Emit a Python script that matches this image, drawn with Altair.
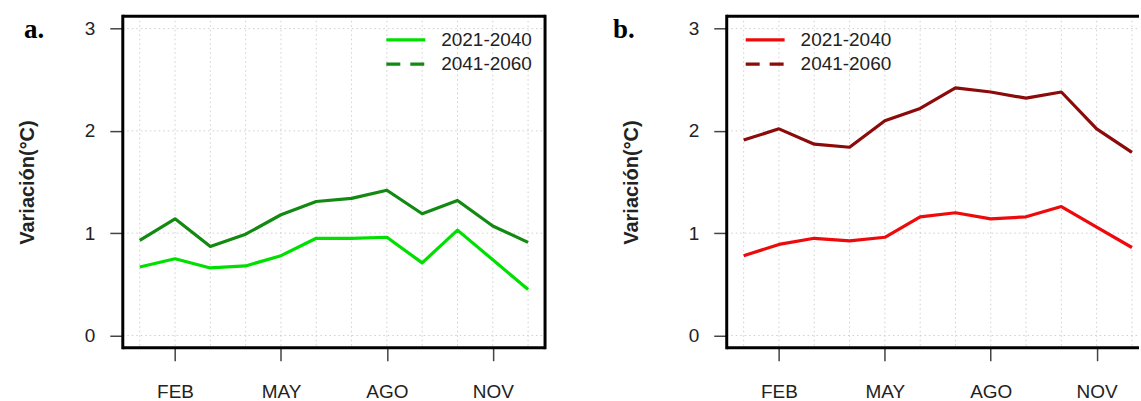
import altair as alt
import pandas as pd

# Month axis
MONTHS = ["ENE", "FEB", "MAR", "ABR", "MAY", "JUN", "JUL", "AGO", "SEP", "OCT", "NOV", "DIC"]
MONTH_NUM = list(range(1, 13))
TICK_MONTHS = [2, 5, 8, 11]
Y_TICKS = [0, 1, 2, 3]
PERIODS = ["2021-2040", "2041-2060"]

# Monthly temperature change (°C), panel a
A_2021_2040 = [0.67, 0.75, 0.66, 0.68, 0.78, 0.95, 0.95, 0.96, 0.71, 1.03, 0.74, 0.45]
A_2041_2060 = [0.93, 1.14, 0.87, 0.99, 1.18, 1.31, 1.34, 1.42, 1.19, 1.32, 1.07, 0.91]

# Monthly temperature change (°C), panel b
B_2021_2040 = [0.78, 0.89, 0.95, 0.925, 0.96, 1.16, 1.20, 1.14, 1.16, 1.26, 1.06, 0.86]
B_2041_2060 = [1.91, 2.02, 1.87, 1.84, 2.10, 2.22, 2.42, 2.38, 2.32, 2.38, 2.02, 1.79]

FONT = "Liberation Sans"
H = 332

label_expr = "[" + ",".join(f"'{m}'" for m in MONTHS) + "][datum.value - 1]"


def one(cols):
    return pd.DataFrame(cols)


def panel(v1, v2, c1, c2, width, xmax, tag, tag_x, leg_x, right_border):
    xs = alt.Scale(domain=[0.52, xmax], nice=False, zero=False)
    ys = alt.Scale(domain=[-0.12, 3.12], nice=False, zero=False)
    x_axis = alt.Axis(values=TICK_MONTHS, labelExpr=label_expr, title=None, grid=False,
                      domain=False, tickSize=13, tickWidth=1.5, labelPadding=22)
    y_axis = alt.Axis(values=Y_TICKS, title="Variación(°C)", grid=False, domain=False,
                      tickSize=13, tickWidth=1.5, labelPadding=15, titlePadding=47)
    X = alt.X("mes:Q", scale=xs, axis=x_axis)
    Y = alt.Y("valor:Q", scale=ys, axis=y_axis)

    grid_style = dict(color="#cfcfcf", strokeWidth=1, strokeDash=[1.5, 3])
    vgrid = alt.Chart(one({"mes": MONTH_NUM})).mark_rule(**grid_style).encode(
        x=X, y=alt.value(0), y2=alt.value(H))
    hgrid = alt.Chart(one({"valor": Y_TICKS})).mark_rule(**grid_style).encode(
        y=Y, x=alt.value(0), x2=alt.value(width))

    line1 = alt.Chart(one({"mes": MONTH_NUM, "valor": v1})).mark_line(
        strokeWidth=3.2, strokeJoin="round", color=c1).encode(x=X, y=Y)
    line2 = alt.Chart(one({"mes": MONTH_NUM, "valor": v2})).mark_line(
        strokeWidth=3.2, strokeJoin="round", color=c2).encode(x=X, y=Y)

    frame_style = dict(color="black", strokeWidth=3)
    frame = [
        alt.Chart(one({"k": [0]})).mark_rule(**frame_style).encode(
            x=alt.value(0), x2=alt.value(width), y=alt.value(0)),
        alt.Chart(one({"k": [0]})).mark_rule(**frame_style).encode(
            x=alt.value(0), x2=alt.value(width), y=alt.value(H)),
        alt.Chart(one({"k": [0]})).mark_rule(strokeCap="square", **frame_style).encode(
            x=alt.value(0), y=alt.value(0), y2=alt.value(H)),
    ]
    if right_border:
        frame.append(alt.Chart(one({"k": [0]})).mark_rule(strokeCap="square", **frame_style).encode(
            x=alt.value(width), y=alt.value(0), y2=alt.value(H)))

    # legend: solid line for the first period, dashed for the second
    legend = []
    for i, (period, col, dash) in enumerate(zip(PERIODS, [c1, c2], [[1, 0], [14, 10]])):
        yy = 23.5 + i * 24.3
        legend.append(alt.Chart(one({"p": [period]})).mark_rule(
            color=col, strokeWidth=3.2, strokeDash=dash).encode(
            x=alt.value(leg_x), x2=alt.value(leg_x + 39), y=alt.value(yy)))
        legend.append(alt.Chart(one({"p": [period]})).mark_text(
            align="left", baseline="middle", font=FONT, fontSize=19, color="#222").encode(
            x=alt.value(leg_x + 55), y=alt.value(yy), text="p:N"))

    tag_mark = alt.Chart(one({"t": [tag]})).mark_text(
        align="left", baseline="alphabetic", font="Liberation Serif",
        fontWeight="bold", fontSize=27, color="black").encode(
        x=alt.value(tag_x), y=alt.value(21.5), text="t:N")

    return alt.layer(vgrid, hgrid, line1, line2, *frame, *legend, tag_mark).properties(
        width=width, height=H)


pa = panel(A_2021_2040, A_2041_2060, "#00E000", "#128A12", 423, 12.48, "a.", -99, 264, True)
pb = panel(B_2021_2040, B_2041_2060, "#EE0A0A", "#8B0A0A", 413, 12.2, "b.", -114, 19, False)

chart = alt.hconcat(pa, pb, spacing=65).properties(
    padding={"left": 17, "top": 13, "right": 0, "bottom": 0},
    background="white",
).configure_view(stroke=None).configure_axis(
    labelFont=FONT, labelFontSize=19, labelColor="#222", tickColor="#444",
    titleFont=FONT, titleFontSize=20, titleFontWeight="bold", titleColor="#222",
)

chart.save("out.html", embed_options={"renderer": "svg", "actions": False})
